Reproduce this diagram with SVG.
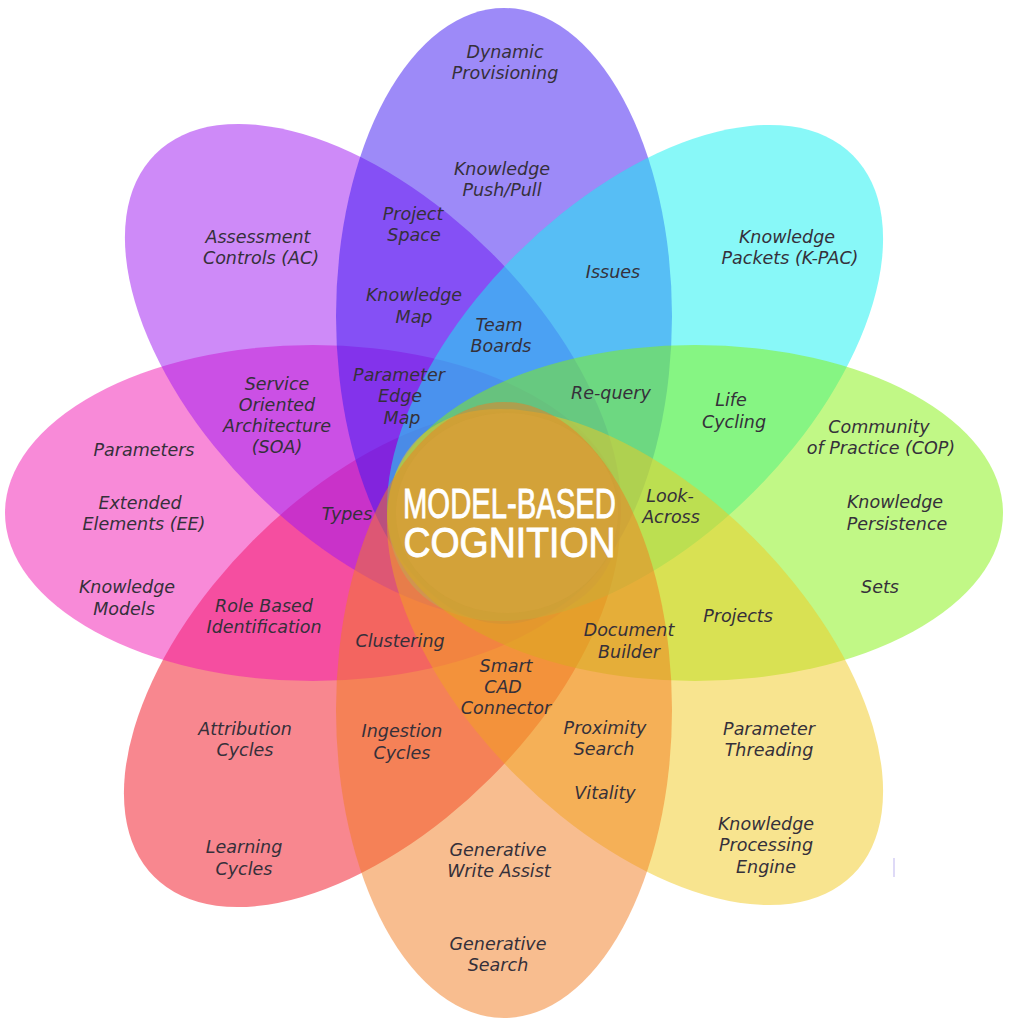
<svg xmlns="http://www.w3.org/2000/svg" width="1024" height="1024" viewBox="0 0 1024 1024">
<style>
.petal{opacity:0.5}
.lbl{font-family:"DejaVu Sans","Noto Sans",sans-serif;font-style:italic;font-size:17.5px;fill:#35303a;text-anchor:middle}
.title{font-family:"Liberation Sans Narrow","Liberation Sans",sans-serif;font-weight:normal;font-size:42px;fill:#ffffff;stroke:#ffffff;stroke-width:0.9;text-anchor:middle}
</style>
<rect width="1024" height="1024" fill="#ffffff"/>
<g id="petals">
<g id="petal-bottom-left"><ellipse class="petal" cx="0" cy="0" rx="308" ry="168" fill="#F10F1F" transform="translate(372 659) rotate(-45)"/></g>
<g id="petal-left"><ellipse class="petal" cx="313" cy="513" rx="308" ry="168" fill="#F115B1"/></g>
<g id="petal-top-left"><ellipse class="petal" cx="0" cy="0" rx="308" ry="168" fill="#9D15F1" transform="translate(373 372) rotate(45)"/></g>
<g id="petal-top"><ellipse class="petal" cx="504" cy="316" rx="168" ry="308" fill="#3B15F1"/></g>
<g id="petal-top-right"><ellipse class="petal" cx="0" cy="0" rx="308" ry="168" fill="#11F1F1" transform="translate(635 373) rotate(-45)"/></g>
<g id="petal-right"><ellipse class="petal" cx="695" cy="513" rx="308" ry="168" fill="#83F10D"/></g>
<g id="petal-bottom-right"><ellipse class="petal" cx="0" cy="0" rx="308" ry="168" fill="#F1C91F" transform="translate(635 657) rotate(45)"/></g>
<g id="petal-bottom"><ellipse class="petal" cx="504" cy="710" rx="168" ry="308" fill="#F17B1F"/></g>
</g>
<g id="center">
<ellipse cx="507" cy="513" rx="111" ry="100" fill="#D4A23A" opacity="0.88"/>
<text class="title"><tspan x="509.5" y="518" textLength="213" lengthAdjust="spacingAndGlyphs">MODEL-BASED</tspan></text>
<text class="title"><tspan x="509.5" y="557" textLength="212" lengthAdjust="spacingAndGlyphs">COGNITION</tspan></text>
</g>
<g id="labels">
<text id="l-dynamic" class="lbl"><tspan x="505" y="58">Dynamic</tspan><tspan x="505" y="79">Provisioning</tspan></text>
<text id="l-pushpull" class="lbl"><tspan x="502" y="175">Knowledge</tspan><tspan x="502" y="196">Push/Pull</tspan></text>
<text id="l-project-space" class="lbl"><tspan x="413" y="220">Project</tspan><tspan x="414" y="241">Space</tspan></text>
<text id="l-knowledge-map" class="lbl"><tspan x="414" y="301">Knowledge</tspan><tspan x="414" y="323">Map</tspan></text>
<text id="l-team-boards" class="lbl"><tspan x="499" y="331">Team</tspan><tspan x="501" y="352">Boards</tspan></text>
<text id="l-issues" class="lbl"><tspan x="613" y="278">Issues</tspan></text>
<text id="l-requery" class="lbl"><tspan x="611" y="399">Re-query</tspan></text>
<text id="l-param-edge" class="lbl"><tspan x="399" y="381">Parameter</tspan><tspan x="400" y="402">Edge</tspan><tspan x="402" y="424">Map</tspan></text>
<text id="l-kpac" class="lbl"><tspan x="787" y="243">Knowledge</tspan><tspan x="790" y="264">Packets (K-PAC)</tspan></text>
<text id="l-life" class="lbl"><tspan x="731" y="406">Life</tspan><tspan x="734" y="428">Cycling</tspan></text>
<text id="l-cop" class="lbl"><tspan x="879" y="433">Community</tspan><tspan x="881" y="454">of Practice (COP)</tspan></text>
<text id="l-persistence" class="lbl"><tspan x="895" y="508">Knowledge</tspan><tspan x="897" y="530">Persistence</tspan></text>
<text id="l-sets" class="lbl"><tspan x="880" y="593">Sets</tspan></text>
<text id="l-look" class="lbl"><tspan x="670" y="502">Look-</tspan><tspan x="671" y="523">Across</tspan></text>
<text id="l-projects" class="lbl"><tspan x="738" y="622">Projects</tspan></text>
<text id="l-docbuilder" class="lbl"><tspan x="629" y="636">Document</tspan><tspan x="629" y="658">Builder</tspan></text>
<text id="l-threading" class="lbl"><tspan x="769" y="735">Parameter</tspan><tspan x="769" y="756">Threading</tspan></text>
<text id="l-kpe" class="lbl"><tspan x="766" y="830">Knowledge</tspan><tspan x="766" y="851">Processing</tspan><tspan x="766" y="873">Engine</tspan></text>
<text id="l-proximity" class="lbl"><tspan x="605" y="734">Proximity</tspan><tspan x="604" y="755">Search</tspan></text>
<text id="l-vitality" class="lbl"><tspan x="605" y="799">Vitality</tspan></text>
<text id="l-smartcad" class="lbl"><tspan x="506" y="672">Smart</tspan><tspan x="503" y="693">CAD</tspan><tspan x="506" y="714">Connector</tspan></text>
<text id="l-writeassist" class="lbl"><tspan x="498" y="856">Generative</tspan><tspan x="499" y="877">Write Assist</tspan></text>
<text id="l-gensearch" class="lbl"><tspan x="498" y="950">Generative</tspan><tspan x="498" y="971">Search</tspan></text>
<text id="l-ingestion" class="lbl"><tspan x="402" y="737">Ingestion</tspan><tspan x="402" y="759">Cycles</tspan></text>
<text id="l-clustering" class="lbl"><tspan x="400" y="647">Clustering</tspan></text>
<text id="l-attribution" class="lbl"><tspan x="245" y="735">Attribution</tspan><tspan x="245" y="756">Cycles</tspan></text>
<text id="l-learning" class="lbl"><tspan x="244" y="853">Learning</tspan><tspan x="244" y="875">Cycles</tspan></text>
<text id="l-role" class="lbl"><tspan x="264" y="612">Role Based</tspan><tspan x="264" y="633">Identification</tspan></text>
<text id="l-parameters" class="lbl"><tspan x="144" y="456">Parameters</tspan></text>
<text id="l-extended" class="lbl"><tspan x="140" y="509">Extended</tspan><tspan x="144" y="530">Elements (EE)</tspan></text>
<text id="l-kmodels" class="lbl"><tspan x="127" y="593">Knowledge</tspan><tspan x="124" y="615">Models</tspan></text>
<text id="l-types" class="lbl"><tspan x="347" y="520">Types</tspan></text>
<text id="l-soa" class="lbl"><tspan x="277" y="390">Service</tspan><tspan x="277" y="411">Oriented</tspan><tspan x="277" y="432">Architecture</tspan><tspan x="277" y="453">(SOA)</tspan></text>
<text id="l-assessment" class="lbl"><tspan x="258" y="243">Assessment</tspan><tspan x="261" y="264">Controls (AC)</tspan></text>
</g>
<line x1="894" y1="858" x2="894" y2="877" stroke="#c9c2f2" stroke-width="1.2"/>
</svg>
